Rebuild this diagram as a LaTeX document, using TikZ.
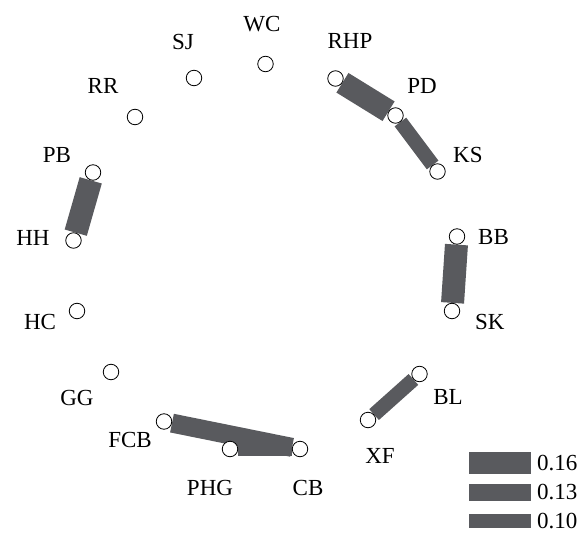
\documentclass[tikz,border=0pt]{standalone}
\usepackage{fontspec}
\setmainfont{Liberation Serif}
\usetikzlibrary{backgrounds}
\definecolor{barcol}{RGB}{89,90,94}
\begin{document}
\begin{tikzpicture}[x=1bp,y=-1bp,
  dot/.style={circle,draw=black,fill=white,line width=0.8bp,inner sep=0pt,minimum size=15.5bp},
  lbl/.style={inner sep=0pt,font=\fontsize{23bp}{27bp}\selectfont},
  bar/.style={draw=barcol,line cap=butt},
  wA/.style={bar,line width=23bp},
  wB/.style={bar,line width=19bp},
  wC/.style={bar,line width=14.5bp},
  legbar/.style={fill=barcol,inner sep=0pt,minimum width=62bp}]
\useasboundingbox (0,0) rectangle (582,540);
% circles
\node[dot] (WC)  at (265.5,64) {};
\node[dot] (SJ)  at (194,78) {};
\node[dot] (RR)  at (135,117) {};
\node[dot] (PB)  at (93,172.5) {};
\node[dot] (HH)  at (73.5,240.5) {};
\node[dot] (HC)  at (77,311) {};
\node[dot] (GG)  at (111,372) {};
\node[dot] (FCB) at (164,421.5) {};
\node[dot] (PHG) at (230,449) {};
\node[dot] (CB)  at (300,449) {};
\node[dot] (XF)  at (368,420) {};
\node[dot] (BL)  at (419.5,374) {};
\node[dot] (SK)  at (452,311) {};
\node[dot] (BB)  at (457,236.5) {};
\node[dot] (KS)  at (437.5,171.5) {};
\node[dot] (PD)  at (395.5,115.5) {};
\node[dot] (RHP) at (335.5,78.5) {};
% labels
\node[lbl] (tWC)  at (262,24) {WC};
\node[lbl] (tSJ)  at (183,42) {SJ};
\node[lbl] (tRR)  at (103,86) {RR};
\node[lbl] (tPB)  at (57,155) {PB};
\node[lbl] (tHH)  at (33,238) {HH};
\node[lbl] (tHC)  at (40,322) {HC};
\node[lbl] (tGG)  at (77,398) {GG};
\node[lbl] (tFCB) at (130,440) {FCB};
\node[lbl] (tPHG) at (210,488) {PHG};
\node[lbl] (tCB)  at (308,488) {CB};
\node[lbl] (tXF)  at (380,456) {XF};
\node[lbl] (tBL)  at (448,397) {BL};
\node[lbl,anchor=west] (tSK) at (475,322) {SK};
\node[lbl,anchor=west] (tBB) at (478,237) {BB};
\node[lbl,anchor=west] (tKS) at (453,155) {KS};
\node[lbl] (tPD)  at (422,86) {PD};
\node[lbl] (tRHP) at (350,41) {RHP};
% bars
\begin{scope}[on background layer]
\draw[wA] (RHP) -- (PD);
\draw[wC] (PD) -- (KS);
\draw[wA] (PB) -- (HH);
\draw[wA] (BB) -- (SK);
\draw[wC] (BL) -- (XF);
\draw[wB] (FCB) -- (CB);
\draw[wC] (PHG) -- (CB);
\end{scope}
% legend
\node[legbar,minimum height=22bp] (L1) at (499.5,463) {};
\node[legbar,minimum height=17.5bp] (L2) at (499.5,492.5) {};
\node[legbar,minimum height=14.5bp] (L3) at (499.5,521) {};
\node[lbl,anchor=west] (tL1) at (537,463) {0.16};
\node[lbl,anchor=west] (tL2) at (537,492.5) {0.13};
\node[lbl,anchor=west] (tL3) at (537,521) {0.10};
\end{tikzpicture}
\end{document}
